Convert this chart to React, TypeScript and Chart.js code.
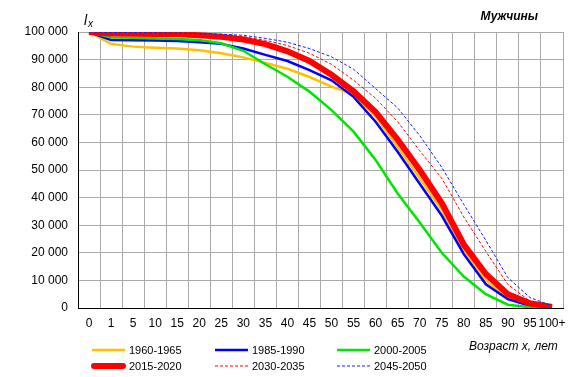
import React, { useEffect, useRef } from "react";
import { Chart, registerables } from "chart.js";

Chart.register(...registerables);

const ages = ["0", "1", "5", "10", "15", "20", "25", "30", "35", "40", "45", "50", "55", "60", "65", "70", "75", "80", "85", "90", "95", "100+"];

const s1960 = [100000, 95700, 94700, 94300, 94000, 93400, 92300, 90800, 88800, 86700, 83700, 80200, 77500, 69300, 58400, 47000, 35500, 21000, 10000, 3700, 900, 200];
const s1985 = [100000, 97100, 97000, 96900, 96700, 96300, 95700, 94000, 91700, 89500, 86200, 82500, 76500, 67500, 56600, 45000, 33500, 19500, 8600, 3200, 800, 200];
const s2000 = [100000, 98000, 97900, 97700, 97500, 97100, 95900, 93200, 88300, 83800, 78400, 71700, 63900, 53600, 41500, 31000, 20000, 11400, 5000, 1200, 300, 100];
const s2015 = [100000, 99500, 99400, 99300, 99200, 98800, 98300, 97300, 95600, 93000, 89500, 84500, 78500, 71000, 61000, 50000, 38000, 23000, 12300, 5000, 1700, 400];
const s2030 = [100000, 99700, 99600, 99500, 99400, 99200, 98900, 98300, 97000, 95100, 92300, 88300, 82500, 76000, 67500, 57000, 47000, 33000, 20500, 8500, 2500, 500];
const s2045 = [100000, 99800, 99800, 99700, 99600, 99400, 99200, 98800, 97700, 96300, 94000, 91000, 86500, 79500, 72500, 62500, 51000, 37500, 24500, 11000, 3800, 800];

const seriesNames = ["1960-1965", "1985-1990", "2000-2005", "2015-2020", "2030-2035", "2045-2050"];
const yTicks = [0, 10000, 20000, 30000, 40000, 50000, 60000, 70000, 80000, 90000, 100000];

const FONT = "'Liberation Sans', Arial, sans-serif";

function fmt(v: number): string {
  return String(v).replace(/\B(?=(\d{3})+(?!\d))/g, " ");
}

const extrasPlugin = {
  id: "extras",
  afterDraw(chart: any) {
    const ctx = chart.ctx as CanvasRenderingContext2D;
    ctx.save();
    ctx.fillStyle = "#000";
    ctx.textBaseline = "alphabetic";
    // l_x label
    ctx.font = `italic 14px ${FONT}`;
    ctx.textAlign = "left";
    ctx.fillText("l", 84, 25);
    ctx.font = `italic 10px ${FONT}`;
    ctx.fillText("x", 88, 27);
    // title
    ctx.font = `italic bold 12px ${FONT}`;
    ctx.textAlign = "right";
    ctx.fillText("Мужчины", 538, 20);
    // x axis title
    ctx.font = `italic 12px ${FONT}`;
    ctx.textAlign = "left";
    ctx.fillText("Возраст x, лет", 469, 350);
    // legend
    const cols = [92, 215, 337];
    const rows = [350, 366];
    const ds = chart.data.datasets;
    ds.forEach((d: any, i: number) => {
      const x = cols[i % 3];
      const y = rows[Math.floor(i / 3)];
      ctx.save();
      ctx.strokeStyle = d.borderColor;
      ctx.lineWidth = d.borderWidth;
      ctx.setLineDash(d.borderDash || []);
      ctx.lineCap = d.borderWidth > 4 ? "round" : "butt";
      ctx.beginPath();
      ctx.moveTo(x + (d.borderWidth > 4 ? 2 : 0), y);
      ctx.lineTo(x + 33 - (d.borderWidth > 4 ? 2 : 0), y);
      ctx.stroke();
      ctx.restore();
      ctx.font = `11px ${FONT}`;
      ctx.textAlign = "left";
      ctx.textBaseline = "middle";
      ctx.fillStyle = "#000";
      ctx.fillText(d.label, x + 37, y + 1);
    });
    ctx.restore();
  },
};

export default function App() {
  const ref = useRef<HTMLCanvasElement | null>(null);
  useEffect(() => {
    document.body.style.margin = "0";
    const canvas = ref.current!;
    const mk = (label: string, data: number[], color: string, width: number, order: number, dash?: number[]) => ({
      label,
      data,
      borderColor: color,
      backgroundColor: color,
      borderWidth: width,
      borderDash: dash || [],
      pointRadius: 0,
      tension: 0,
      fill: false,
      order,
    });
    const chart = new Chart(canvas, {
      type: "line",
      data: {
        labels: ages,
        datasets: [
          mk(seriesNames[0], s1960, "#FFC000", 2.5, 6),
          mk(seriesNames[1], s1985, "#0000FF", 2.5, 5),
          mk(seriesNames[2], s2000, "#00E600", 2.5, 4),
          mk(seriesNames[3], s2015, "#FF0000", 6, 3),
          mk(seriesNames[4], s2030, "#FF0000", 1, 2, [3, 2]),
          mk(seriesNames[5], s2045, "#1a1aff", 1, 1, [3, 2]),
        ],
      },
      options: {
        responsive: false,
        animation: false,
        devicePixelRatio: 1,
        layout: { padding: { top: 32, right: 14, left: 0, bottom: 0 } },
        plugins: { legend: { display: false }, tooltip: { enabled: false } },
        scales: {
          x: {
            offset: true,
            grid: { offset: true, color: "#aaaaaa", drawTicks: false },
            border: { color: "#000", width: 1 },
            ticks: { color: "#000", font: { family: FONT, size: 12 }, padding: 8, maxRotation: 0, autoSkip: false },
            afterFit: (s: any) => { s.height = 69; },
          },
          y: {
            min: 0,
            max: 100000,
            afterBuildTicks: (s: any) => { s.ticks = yTicks.map((v) => ({ value: v })); },
            grid: { color: "#aaaaaa", drawTicks: false },
            border: { color: "#000", width: 1 },
            ticks: { color: "#000", font: { family: FONT, size: 12 }, padding: 10, callback: (v: any) => fmt(Number(v)) },
            afterFit: (s: any) => { s.width = 78; },
          },
        },
      },
      plugins: [extrasPlugin],
    } as any);
    return () => chart.destroy();
  }, []);
  return (
    <div style={{ position: "absolute", left: 0, top: 0, width: 577, height: 377, background: "#fff" }}>
      <canvas ref={ref} width={577} height={377} />
    </div>
  );
}
